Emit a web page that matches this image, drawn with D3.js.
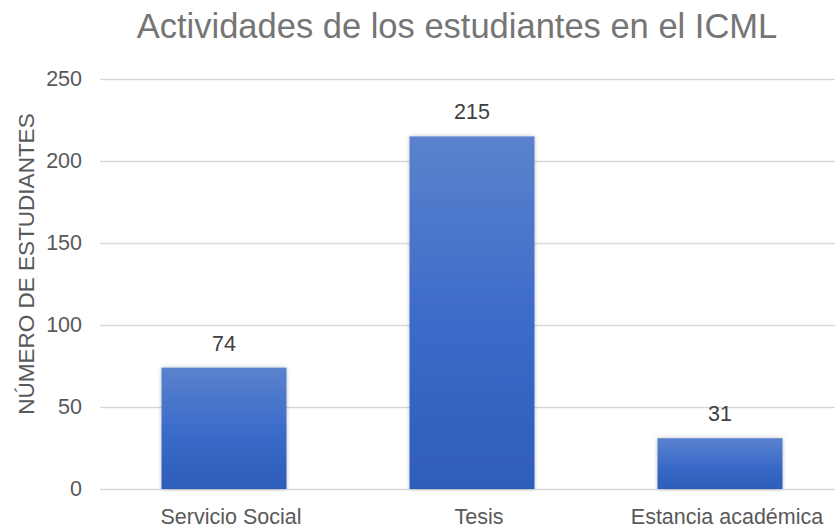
<!DOCTYPE html>
<html>
<head>
<meta charset="utf-8">
<script src="https://cdn.jsdelivr.net/npm/d3@7"></script>
<style>
  body { margin: 0; background: #fff; }
  svg { font-family: "Liberation Sans", Arial, sans-serif; }
</style>
</head>
<body>
<svg id="drawing_region"></svg>
<script>
const categories = ["Servicio Social", "Tesis", "Estancia académica"];
const values = [74, 215, 31];
const yticks = [0, 50, 100, 150, 200, 250];
const title = "Actividades de los estudiantes en el ICML";
const ylabel = "NÚMERO DE ESTUDIANTES";

const width = 835, height = 529;
const margin = {top: 79, left: 100, bottom: 40};

const svg = d3.select("#drawing_region")
    .attr("width", width)
    .attr("height", height);

const defs = svg.append("defs");
const grad = defs.append("linearGradient")
    .attr("id", "barGrad")
    .attr("x1", 0).attr("y1", 0).attr("x2", 0).attr("y2", 1);
grad.append("stop").attr("offset", "0%").attr("stop-color", "#5b82cd");
grad.append("stop").attr("offset", "55%").attr("stop-color", "#3a6ac9");
grad.append("stop").attr("offset", "100%").attr("stop-color", "#2e5db9");

const shadow = defs.append("filter").attr("id", "shadow")
    .attr("x", "-10%").attr("y", "-10%").attr("width", "120%").attr("height", "120%");
shadow.append("feDropShadow")
    .attr("dx", 0).attr("dy", 0).attr("stdDeviation", 2)
    .attr("flood-color", "#000").attr("flood-opacity", 0.25);

const xscale = d3.scaleBand()
    .domain(categories)
    .range([margin.left, 844])
    .paddingInner(0.496)
    .paddingOuter(0.248);

const yscale = d3.scaleLinear()
    .domain([0, 250])
    .range([489, margin.top]);

// gridlines
svg.append("g")
    .selectAll("line")
    .data(yticks)
    .enter()
    .append("line")
    .attr("x1", margin.left)
    .attr("x2", width)
    .attr("y1", d => yscale(d) + 0.5)
    .attr("y2", d => yscale(d) + 0.5)
    .attr("stroke", "#d9d9d9")
    .attr("stroke-width", 1.5);

// y axis
const yaxis = d3.axisLeft(yscale).tickValues(yticks).tickSize(0).tickPadding(18);
const yaxis_group = svg.append("g")
    .attr("transform", `translate(${margin.left}, 0)`)
    .call(yaxis);
yaxis_group.select(".domain").remove();
yaxis_group.selectAll("text")
    .attr("font-size", "21.5px")
    .attr("fill", "#595959")
    .attr("font-family", "Liberation Sans, Arial, sans-serif");

// x axis
const xaxis = d3.axisBottom(xscale).tickSize(0).tickPadding(20);
const xaxis_group = svg.append("g")
    .attr("transform", `translate(0, 489)`)
    .call(xaxis);
xaxis_group.select(".domain").remove();
xaxis_group.selectAll("text")
    .attr("dx", 7)
    .attr("font-size", "21.5px")
    .attr("fill", "#595959")
    .attr("font-family", "Liberation Sans, Arial, sans-serif");

// bars
svg.append("g")
    .selectAll("rect")
    .data(values)
    .enter()
    .append("rect")
    .attr("x", (d, i) => xscale(categories[i]))
    .attr("y", d => yscale(d))
    .attr("width", xscale.bandwidth())
    .attr("height", d => yscale(0) - yscale(d))
    .attr("fill", "url(#barGrad)")
    .attr("filter", "url(#shadow)");

// value labels
svg.append("g")
    .selectAll("text")
    .data(values)
    .enter()
    .append("text")
    .attr("x", (d, i) => xscale(categories[i]) + xscale.bandwidth() / 2)
    .attr("y", d => yscale(d) - 17)
    .attr("text-anchor", "middle")
    .attr("font-size", "21.5px")
    .attr("fill", "#404040")
    .text(d => d);

// title
svg.append("text")
    .attr("x", 457)
    .attr("y", 38)
    .attr("text-anchor", "middle")
    .attr("font-size", "34.5px")
    .attr("fill", "#757575")
    .text(title);

// y label
svg.append("text")
    .attr("transform", `translate(34, 264) rotate(-90)`)
    .attr("text-anchor", "middle")
    .attr("font-size", "22.5px")
    .attr("fill", "#595959")
    .text(ylabel);
</script>
</body>
</html>
